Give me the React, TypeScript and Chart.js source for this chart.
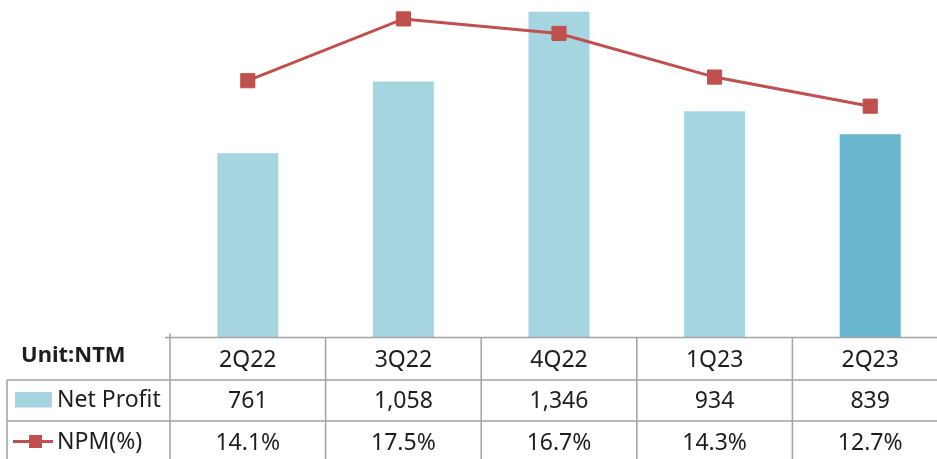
import React, { useEffect, useRef } from "react";
import { Chart, registerables } from "chart.js";

Chart.register(...registerables);

const quarters = ["2Q22", "3Q22", "4Q22", "1Q23", "2Q23"];
const netProfit = [761, 1058, 1346, 934, 839];
const npm = [14.1, 17.5, 16.7, 14.3, 12.7];
const unitLabel = "Unit:NTM";
const seriesNames = ["Net Profit", "NPM(%)"];

const LIGHT = "#A6D5E2";
const DARK = "#67B6CE";
const RED = "#C0504D";
const GRID = "#A3A3A3";
const TEXT = "#1E1E1E";
const FONT = '"Noto Sans", "DejaVu Sans", sans-serif';

const tablePlugin = {
  id: "dataTable",
  afterDraw(chart: any) {
    const { ctx, chartArea, scales } = chart;
    const x = scales.x;
    const W = chart.width;
    const H = chart.height;
    const top = chartArea.bottom + 0.5;
    const r1 = 380;
    const r2 = 421;
    const n = quarters.length;
    const centers = quarters.map((_, i) => x.getPixelForValue(i));
    const bounds: number[] = [chartArea.left];
    for (let i = 0; i < n - 1; i++) bounds.push((centers[i] + centers[i + 1]) / 2);
    bounds.push(chartArea.right);

    ctx.save();
    ctx.strokeStyle = GRID;
    ctx.lineWidth = 1.5;
    ctx.beginPath();
    ctx.moveTo(165, top);
    ctx.lineTo(W, top);
    ctx.moveTo(7, r1);
    ctx.lineTo(W, r1);
    ctx.moveTo(7, r2);
    ctx.lineTo(W, r2);
    ctx.moveTo(7, r1);
    ctx.lineTo(7, H);
    ctx.moveTo(bounds[0], top - 4);
    ctx.lineTo(bounds[0], H);
    for (let i = 1; i < bounds.length; i++) {
      ctx.moveTo(bounds[i], top);
      ctx.lineTo(bounds[i], H);
    }
    ctx.stroke();

    ctx.fillStyle = TEXT;
    ctx.textBaseline = "alphabetic";
    ctx.textAlign = "center";
    ctx.font = `23px ${FONT}`;
    quarters.forEach((q, i) => ctx.fillText(q, centers[i], 366.7));
    netProfit.forEach((v, i) => ctx.fillText(v.toLocaleString("en-US"), centers[i], 408.3));
    npm.forEach((v, i) => ctx.fillText(v.toFixed(1) + "%", centers[i], 449.5));

    ctx.textAlign = "left";
    ctx.font = `bold 22px ${FONT}`;
    ctx.fillText(unitLabel, 21, 361.7);

    ctx.fillStyle = LIGHT;
    ctx.fillRect(15, 392, 37, 15.5);
    ctx.strokeStyle = RED;
    ctx.lineWidth = 3;
    ctx.beginPath();
    ctx.moveTo(13, 441.5);
    ctx.lineTo(53, 441.5);
    ctx.stroke();
    ctx.fillStyle = RED;
    ctx.fillRect(29, 435, 13, 13);

    ctx.fillStyle = TEXT;
    ctx.font = `23px ${FONT}`;
    ctx.fillText(seriesNames[0], 57, 407.3);
    ctx.fillText(seriesNames[1], 57, 448.5);
    ctx.restore();
  },
};

export default function App() {
  const ref = useRef<HTMLCanvasElement>(null);
  useEffect(() => {
    if (!ref.current) return;
    const chart = new Chart(ref.current, {
      type: "bar",
      data: {
        labels: quarters,
        datasets: [
          {
            type: "line",
            label: seriesNames[1],
            data: npm,
            yAxisID: "y1",
            borderColor: RED,
            backgroundColor: RED,
            borderWidth: 3,
            pointStyle: "rect",
            pointRadius: 10,
            pointBorderWidth: 1,
            pointBorderColor: RED,
            pointBackgroundColor: RED,
            tension: 0,
            order: 0,
            clip: false,
          } as any,
          {
            type: "bar",
            label: seriesNames[0],
            data: netProfit,
            yAxisID: "y",
            backgroundColor: netProfit.map((_, i) => (i === netProfit.length - 1 ? DARK : LIGHT)),
            categoryPercentage: 1,
            barPercentage: 0.392,
            order: 1,
          } as any,
        ],
      },
      options: {
        responsive: false,
        animation: false,
        devicePixelRatio: 1,
        layout: { autoPadding: false, padding: { left: 170, right: 12, top: 0, bottom: 122 } },
        plugins: { legend: { display: false }, tooltip: { enabled: false } },
        scales: {
          x: { display: false, offset: true },
          y: { display: false, min: 0, max: 1395 },
          y1: { display: false, min: 0, max: 18.54, position: "right" },
        },
      },
      plugins: [tablePlugin],
    });
    return () => chart.destroy();
  }, []);
  return (
    <div
      style={{
        position: "absolute",
        left: 0,
        top: 0,
        width: 937,
        height: 459,
        overflow: "hidden",
        background: "#fff",
      }}
    >
      <canvas ref={ref} width={960} height={459} style={{ width: 960, height: 459, display: "block" }} />
    </div>
  );
}
